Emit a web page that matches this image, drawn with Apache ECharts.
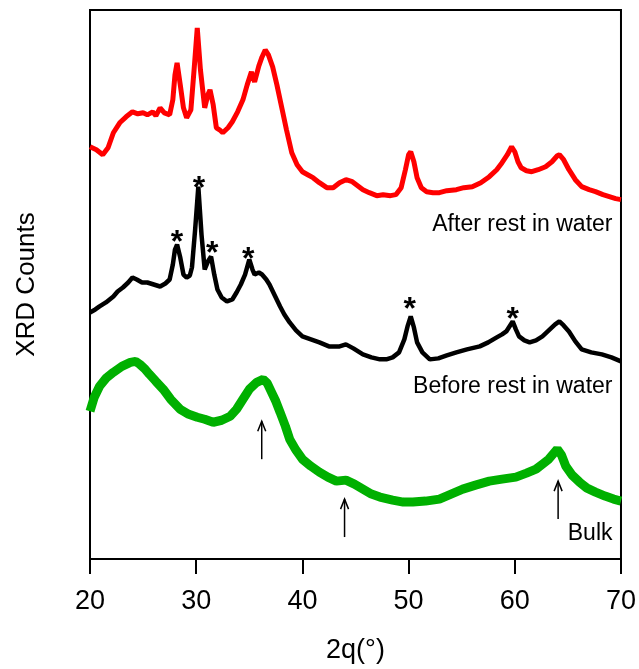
<!DOCTYPE html>
<html>
<head>
<meta charset="utf-8">
<script src="https://cdn.jsdelivr.net/npm/echarts@6/dist/echarts.min.js"></script>
<style>
  html, body { margin: 0; padding: 0; background: #fff; }
  #chart { width: 639px; height: 669px; }
</style>
</head>
<body>
<div id="chart"></div>
<script>
// ---- Data (2θ in degrees, counts in arbitrary units with vertical offsets) ----
const xTicks = [20, 30, 40, 50, 60, 70];

const afterAngle = [20,20.6,21.2,21.7,22.2,22.8,23.4,24.0,24.5,25.0,25.4,25.9,26.2,26.6,27.0,27.5,27.8,28.0,28.2,28.5,28.8,29.1,29.5,29.8,30.1,30.4,30.8,31.1,31.3,31.6,31.9,32.2,32.5,33.0,33.4,33.9,34.4,34.8,35.2,35.5,35.9,36.2,36.5,36.8,37.2,37.6,38.1,38.5,39.0,39.5,40.0,40.5,41.0,41.6,42.3,42.9,43.5,44.1,44.7,45.2,45.7,46.3,47.0,47.6,48.3,48.8,49.3,49.7,50.0,50.2,50.5,50.8,51.2,51.7,52.3,52.9,53.6,54.5,55.2,56.0,56.8,57.6,58.3,58.8,59.3,59.7,60.0,60.3,60.6,61.1,61.6,62.2,62.9,63.5,64.0,64.2,64.6,65.1,65.7,66.3,67.0,67.6,68.3,68.9,69.5,70];
const afterCounts = [413,410,405,412,427,437,443,448,446,447,445,448,444,452,447,445,460,485,497,475,452,442,450,490,532,490,452,465,470,455,432,430,427,432,438,448,460,475,488,478,494,503,510,505,493,475,450,430,407,395,388,385,382,377,372,372,377,380,378,374,370,367,364,365,364,365,372,390,405,408,398,382,372,368,367,367,369,370,372,373,377,383,390,397,405,413,408,398,392,389,388,390,393,398,404,405,400,390,380,373,370,368,365,363,361,360];

const beforeAngle = [20,20.5,20.9,21.5,22.2,22.6,23.1,23.6,24.0,24.4,24.9,25.4,26.0,26.6,27.1,27.5,27.8,28.0,28.2,28.5,28.8,29.1,29.4,29.6,29.9,30.2,30.5,30.8,31.1,31.4,31.7,32.0,32.4,32.9,33.4,33.8,34.2,34.6,35.0,35.3,35.5,35.9,36.2,36.6,36.9,37.4,37.9,38.3,38.8,39.4,40.0,40.8,41.6,42.5,43.5,44.1,44.8,45.7,46.5,47.3,47.9,48.5,49.1,49.6,49.9,50.2,50.5,50.8,51.3,52.0,52.8,53.6,54.5,55.5,56.7,57.5,58.3,58.8,59.2,59.5,59.8,60.1,60.4,60.9,61.4,62.0,62.6,63.2,63.8,64.2,64.6,65.1,65.7,66.3,67.2,68.2,69.1,70];
const beforeCounts = [247,250,253,257,263,268,272,277,282,280,277,277,275,273,276,280,295,310,315,302,285,282,284,292,330,373,325,290,298,303,285,270,262,258,260,267,275,285,300,290,285,287,285,280,275,264,253,245,237,229,223,220,217,213,213,215,211,205,202,200,200,202,207,220,233,243,232,217,207,200,201,204,207,210,213,217,222,225,228,233,238,230,223,219,217,219,223,229,235,238,234,228,218,210,207,205,202,198];

const bulkAngle = [20,20.4,20.9,21.5,22.2,23.0,23.8,24.3,24.7,25.2,25.6,26.2,26.9,27.6,28.5,29.3,30.1,30.8,31.6,32.4,33.2,33.8,34.4,35.0,35.7,36.3,36.7,37.1,37.5,37.9,38.4,38.8,39.4,40.0,40.8,41.6,42.4,43.2,44.1,44.9,45.7,46.5,47.3,48.5,49.5,50.4,51.6,52.9,54.0,55.1,56.3,57.6,58.8,60.1,61.1,62.0,62.6,63.2,63.6,64.0,64.4,64.8,65.4,66.1,66.8,67.6,68.5,69.3,70];
const bulkCounts = [148,162,173,181,187,193,197,198,195,190,185,178,170,160,150,145,142,140,137,139,143,150,160,170,177,180,176,167,158,147,133,120,109,100,93,87,82,78,79,75,70,65,62,59,57,57,58,60,65,70,74,78,80,82,86,90,95,100,105,110,104,93,84,77,71,67,63,60,58];

// peak markers (*) above the "Before" pattern
const starAngle = [28.2, 30.25, 31.5, 34.9, 50.1, 59.8];
const starCounts = [325, 380, 314, 308, 258, 248];

// arrows under the "Bulk" pattern: angle, tail, head
const arrowAngle = [36.17, 43.97, 64.08];
const arrowTail = [100, 22, 40];
const arrowHead = [138, 60, 78];

// curve labels
const labelText = ['After rest in water', 'Before rest in water', 'Bulk'];
const labelAngle = [69.2, 69.2, 69.2];
const labelCounts = [335, 173, 25];

const FONT = 'Liberation Sans, Arial, Helvetica, sans-serif';
const zip = (a, b) => a.map((v, i) => [v, b[i]]);

const chart = echarts.init(document.getElementById('chart'), null, { renderer: 'canvas' });
chart.setOption({
  animation: false,
  backgroundColor: '#fff',
  grid: { left: 90, right: 17, top: 10, bottom: 109, show: true, borderColor: '#000', borderWidth: 2, backgroundColor: 'transparent' },
  xAxis: {
    type: 'value', min: 20, max: 70, interval: 10,
    name: '2q(°)', nameLocation: 'middle', nameGap: 78,
    nameTextStyle: { fontFamily: FONT, fontSize: 27, color: '#000' },
    axisLine: { show: true, lineStyle: { color: '#000', width: 2 } },
    axisTick: { show: true, inside: false, length: 15, lineStyle: { color: '#000', width: 2 } },
    axisLabel: { fontFamily: FONT, fontSize: 27, color: '#000', margin: 29, formatter: v => xTicks.includes(v) ? String(v) : '' },
    splitLine: { show: false }
  },
  yAxis: {
    type: 'value', min: 0, max: 550,
    name: 'XRD Counts', nameLocation: 'middle', nameGap: 50,
    nameTextStyle: { fontFamily: FONT, fontSize: 26, color: '#000' },
    axisLine: { show: true, lineStyle: { color: '#000', width: 2 } },
    axisTick: { show: false },
    axisLabel: { show: false },
    splitLine: { show: false }
  },
  series: [
    { name: 'After rest in water', type: 'line', data: zip(afterAngle, afterCounts), showSymbol: false, lineStyle: { color: '#ff0000', width: 5 }, z: 3 },
    { name: 'Before rest in water', type: 'line', data: zip(beforeAngle, beforeCounts), showSymbol: false, lineStyle: { color: '#000000', width: 4.5 }, z: 3 },
    { name: 'Bulk', type: 'line', data: zip(bulkAngle, bulkCounts), showSymbol: false, lineStyle: { color: '#00b000', width: 9 }, z: 3 },
    {
      name: 'stars', type: 'custom', silent: true, z: 5,
      data: zip(starAngle, starCounts),
      renderItem: (params, api) => {
        const p = api.coord([api.value(0), api.value(1)]);
        return { type: 'text', x: p[0], y: p[1] + 9, style: { text: '*', fill: '#000', font: 'bold 32px ' + FONT, align: 'center', verticalAlign: 'middle', textAlign: 'center', textVerticalAlign: 'middle' } };
      }
    },
    {
      name: 'labels', type: 'custom', silent: true, z: 5,
      data: labelText.map((t, i) => [labelAngle[i], labelCounts[i], i]),
      renderItem: (params, api) => {
        const p = api.coord([api.value(0), api.value(1)]);
        return { type: 'text', x: p[0], y: p[1], style: { text: labelText[params.dataIndex], fill: '#000', font: '23px ' + FONT, align: 'right', verticalAlign: 'middle', textAlign: 'right', textVerticalAlign: 'middle' } };
      }
    },
    {
      name: 'arrows', type: 'custom', silent: true, z: 6,
      data: arrowAngle.map((a, i) => [a, arrowTail[i], arrowHead[i]]),
      renderItem: (params, api) => {
        const t = api.coord([api.value(0), api.value(1)]);
        const h = api.coord([api.value(0), api.value(2)]);
        const st = { stroke: '#000', lineWidth: 1.5, fill: null };
        return {
          type: 'group',
          children: [
            { type: 'line', shape: { x1: t[0], y1: t[1], x2: h[0], y2: h[1] }, style: st },
            { type: 'polyline', shape: { points: [[h[0] - 4, h[1] + 10], [h[0], h[1]], [h[0] + 4, h[1] + 10]] }, style: st }
          ]
        };
      }
    }
  ]
});
</script>
</body>
</html>
